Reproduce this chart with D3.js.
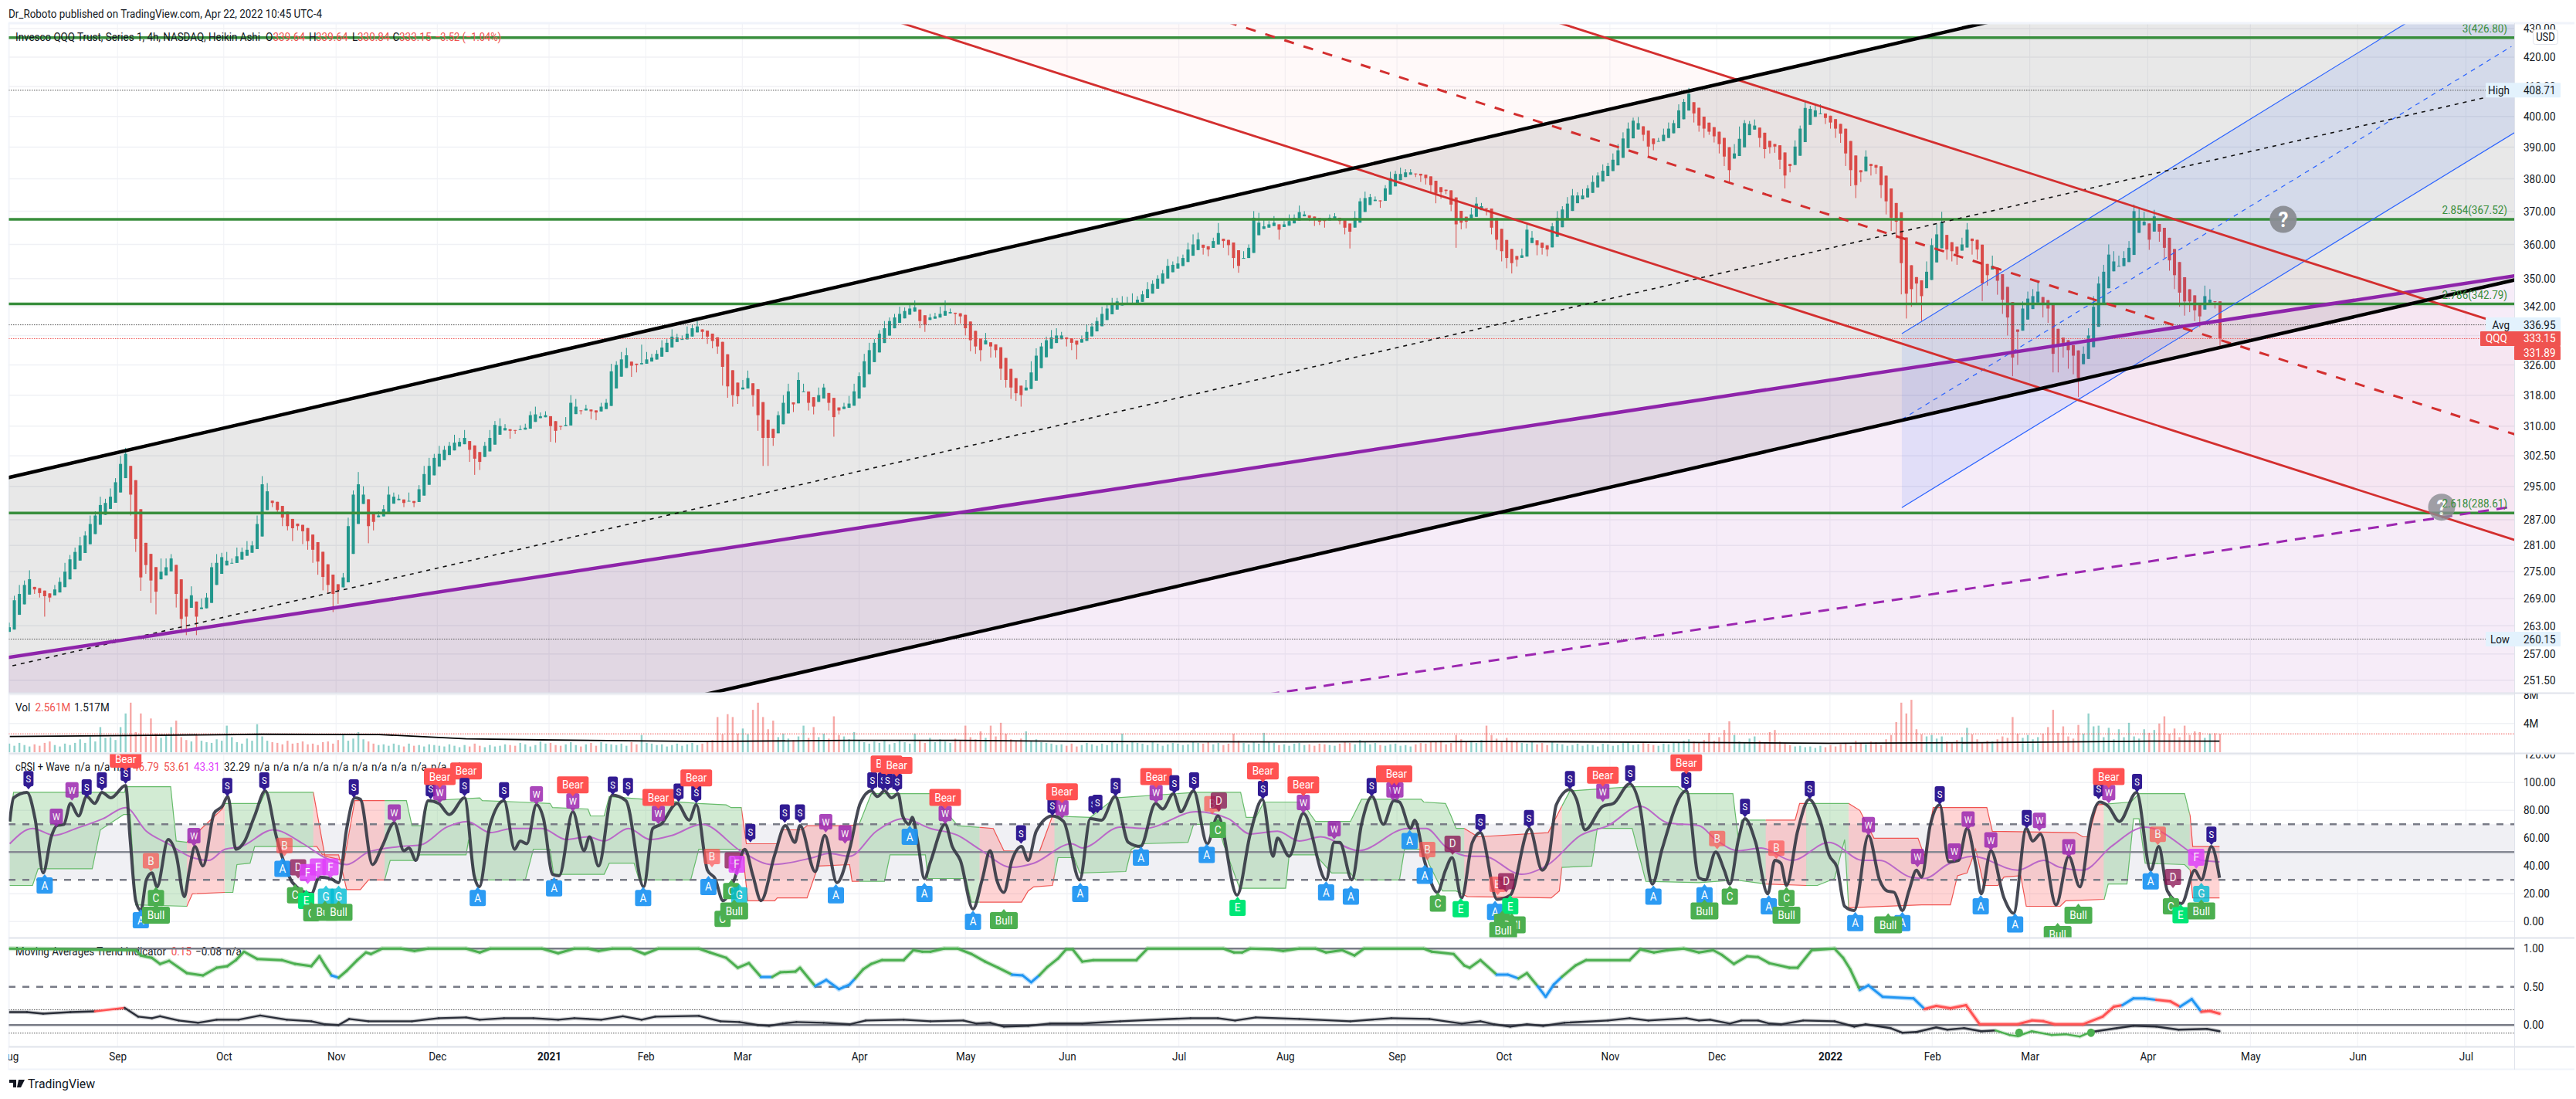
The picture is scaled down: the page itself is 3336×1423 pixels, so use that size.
<!DOCTYPE html>
<html><head><meta charset="utf-8">
<script src="https://cdnjs.cloudflare.com/ajax/libs/d3/7.8.5/d3.min.js"></script>
<style>html,body{margin:0;padding:0;background:#fff}svg{display:block}text{font-family:Roboto,sans-serif}</style>
</head><body><svg id="c" width="3336" height="1423"></svg>
<script>
// ---------- data ----------
const closes=[262.7,268.6,270,272,273.3,271,270.2,269.5,269.2,271,
272.7,275,277.8,279.5,281,283.3,286,288,290.5,291,
292.5,296,300.5,303,293,282.5,273.7,276.5,273,270.5,
275,276,278,270,264.5,265,269.7,265,267,269.2,
276,277,278.3,277.5,277,278.5,279.5,280,281,286,
295.5,293.8,291,289.3,287.5,285.5,285,285.5,284.3,282,
280,277.3,273.8,272,270,270.8,273.7,285.5,293,295.5,
293,285.5,286.5,288,289.5,293,292.5,292,291,291.5,
291,294.3,298,300,302,303,304,305,305.8,306,
307,304,301.8,301,305,307,310.3,310,309.5,308.8,
309,309.2,309.6,312.8,313,312.5,312.8,310,308.8,310,
310.3,316,315,314,314.5,313.8,313.5,315,316,324.3,
326,327.5,328.6,325.8,326,326.5,327.5,328,329,330.7,
332,333.7,333.5,333,334.5,336,336.5,335,333.7,332.5,
331,325.5,320.3,318,317.7,320,322.5,318,312.8,307,
307,307,312.8,316,319,315.6,322,319,316,315,
318,320,316,312.3,314,315,315.8,319,323,327,
330,332,334.5,336,338,339,340,340.8,341.5,341.8,
338,337,339,339.3,340,340.8,340.5,340,339.3,336,
332.7,331,330,332.7,331,330,325,322,320,318.5,
318,320,324,328.5,331,332.7,333.5,334,334,333,
332,331.5,333,335,336.5,338,340,341.5,342.5,343.5,
343,342.8,342.8,344,345.5,347,348.5,350,351.5,353.7,
354,354.4,356,358.5,360,361.5,359,358.5,361,363.4,
361,359.8,356,353.7,356,359,368,366.5,365.4,366,
366.5,364.4,366,367,368,369.7,369,368,367.5,366.8,
367,368,368.4,367,365,363.8,368,373,374,374.3,
373.5,373,377,380.2,381.5,381.5,382,382,381.5,381,
380.2,378,375.4,375.8,376.2,372,366,366.5,366.8,369,
372.3,371.5,370.7,365,361.4,358,356,354.5,355.5,356.8,
364.4,362,359.8,359,358.5,365.4,368,370.5,372.3,374.8,
374.8,374.8,377,379,381,382.5,384,386,389,392.8,
396,398.6,397.8,394,390.2,391,392,394,396,397.8,
402,404.8,407.5,401,397,396,395,393.5,391,387,
382.7,388,392.7,397.8,397.5,397,393,389.4,390,390.2,
386,381,384,390.2,396,402.8,402.5,402,401,399.5,
398,396,394.4,388,382.7,378,382,387,384,383.5,
378,373,368,366.8,354.5,345.7,347,348.6,345,352,
359.8,363,366.8,358.5,358,357,360,364.4,361,358.5,
348.6,351,353.7,349.4,344,339,328,335,341.5,344.3,
345,346.3,343,341.5,329,331,332,330,328.5,322.5,
329,334,342,348.6,352,357,355,353.7,356,359,
370,368,366.8,361.4,368.4,363.8,359,355.3,351,346,
343.5,343.5,341,339.3,345,344,343.5,333.15];
const wicks=[1,1,2,1,2,1,1,4.5,1,1,1,2,1,1,2,1,2,1,2,1,
2,1,2,1.5,5,3,3,2,5,5,3,2,1,3,3,4,2,4,2,1,
1,2,1,2,1,2,1,2,1,2,2,2,1,1,2,1,3,1,3,2,
3,3,3,2,4,3,1,2,1,3,2,4,2,1,1,2,1,1,1,2,
1,1,2,2,1,2,1,1,2,1,2,3,4,2,1,2,1,2,1,2,
1,1,1,1,2,1,1,4,3,1,2,2,2,1,1,2,2,1,1,2,
1,2,2,3,2,5,2,1,1,2,1,2,1,1,2,1,1.5,2,2,2,
2,5,3,3,2,2,2,3,4,7,7,2,1,2,2,2,2,2,2,2,
2,1,2,5,1,1,2,2,1,2,2,1,1,2,1,1,2,1,1,2,
2,2,1,1,2,3,1,3,2,2,3,2,3,2,3,2,3,2,3,2,
3,2,3,2,1,1,2,2,1,2,2,4,1,2,1,1,2,1,2,1,
2,2,3,1,1,2,1,1,1,2,1,2,1,2,3,2,2,2,1,3,
2,3,3,2,2,1,2,3,2,1,2,3,1,2,1,2,1,1,2,1,
2,1,1,1,2,5,2,1,2,1,1,2,1,2,1,2,1,1,1,2,
2,2,3,2,1,2,7,2,2,2,2,1,2,2,3,3,3,3,2,2,
2,2,3,2,2,1,2,1,2,2,1,2,1,2,1,2,1,2,2,2,
2,1,2,2,3,2,1,2,2,1,2,1,2,3,2,3,1,2,3,3,
4,3,4,1,1,2,3,3,2,2,3,4,2,2,1,2,1,2,3,2,
2,3,3,4,5,4,3,2,3,2,4,4,4,5,9,7,5,6,7,3,
2,3,3,3,3,3,2,2,4,3,5,3,3,4,4,5,5,9,2,2,
2,3,4,4,5,7,4,5,5,5,2,2,3,2,2,3,3,3,2,2,
2,3,3,3,2,3,3,3,4,4,4,3,3,3,3,3,2,2];
const volumes=[1.2,.9,1.3,1,.8,1.1,.9,1.3,1.5,1,.8,1.2,1,1.3,1.8,1.3,2.2,1.5,3.5,2,
2.1,1.7,3.5,5.4,6.9,2.8,5.4,2.2,4.7,2.6,2,2.4,3.5,4.4,2.1,1.7,1.5,2.4,1.6,1.4,
1.3,1.8,1.6,3.7,2.1,1.4,1.2,1.9,1.6,3.9,2.2,1.6,1.4,1.3,1.1,1.6,1.2,1.3,1.5,1.1,
1.2,1,1.4,1.5,1.2,1.7,2.4,1.6,1.9,2.8,1.8,1.5,1.2,1,1.1,.9,1.2,1,.8,1.2,
.9,1,.8,1.1,1,.9,.8,1.1,.9,.7,1,.8,1.2,.9,.7,1,.8,.9,1.1,1,
.9,1.3,1.1,.8,1,1.5,1.2,1.3,1,.9,1.1,1.4,1,.8,1.1,1.3,.9,1.4,1.2,1.1,
1,1.2,.9,1.4,1.1,2.4,1.3,1.2,1,1.1,.8,1,1.2,.9,1.1,1.3,1,1.2,1.4,1.7,
4.9,2.5,5.3,4.9,2.6,3.3,2.5,5.9,6.9,4.9,3.2,4.4,2.1,2.6,1.9,1.7,2.2,3.7,2,3.5,
2.1,2.6,1.9,5,2.4,2.2,1.8,2.8,1.6,1.4,1.2,1.5,1.3,1.6,1.1,1.3,1.7,1.4,1.2,2.6,
1.6,1.3,2,1.4,1.8,1.5,1.3,1.9,1.6,3.7,2.1,1.8,2.9,2,3.7,2.2,4.1,2.6,1.8,1.5,
1.9,2.9,1.6,1.8,1.4,1.3,1.2,1,1.1,.9,1.2,.8,1,1.3,1.1,.9,1.2,1,1.4,1.2,
2.6,1.1,1.5,1.3,1.2,1,1.4,1.2,.9,1.1,1.3,1.2,1,1.1,1.5,1.3,1.2,1.4,1.1,1.3,
1,1.2,2.6,1.6,1.3,1.1,1.5,1.2,2.7,1.4,1.3,1,1.1,.9,1.2,1.3,1,1.1,.9,1.2,
1.1,1,.9,1.2,1.4,1.3,1.1,1.7,1.4,1.1,1.3,1,.9,1.1,1.2,.9,1,.8,1.1,1.3,
1.2,1.4,1.5,1.6,1.1,1.3,2.4,1.8,1.5,1.6,1.3,1.7,3.7,2.4,1.9,1.5,2,1.6,1.4,1.3,
1.2,1.5,1.1,1.3,1,1.4,1.2,1.1,.9,1,1.2,.9,1.1,1,.8,1.2,1.1,.9,1,1.3,
1.5,1,1.1,1.4,1.2,1,.9,1.2,1.1,1.4,1.3,1.6,1.8,1.5,1.4,1.7,2.7,1.6,2.1,3.1,
4.3,2.4,1.5,1.3,1.9,2.2,1.6,1.4,2.8,3.1,1.5,1.2,1,.8,.9,.7,.8,.6,.9,.7,
1,.8,1.1,1.3,.9,1.6,1.2,1.1,1.5,1.4,1,1.8,2.4,4.2,6.9,5.4,7.3,3.2,2.5,2.2,
2.4,1.9,2.2,1.5,1.3,1.7,2.1,3.4,2.5,1.8,1.3,1.6,1.5,1.8,2.2,2,4.9,2.6,2,2.4,
1.8,2.1,2.6,3.5,5.9,2.7,3.6,2.2,1.9,3.8,2.6,5.4,3.6,3.7,2.1,3.4,1.8,3.2,2.1,4.1,
2.2,1.9,3.2,2.7,3.1,4,5,2.6,3.3,2.1,3.7,2.4,2.9,2.8,2,2.6,2.65,2.56];
const volMaIdx=[.1,23.9,49.6,73.1,90.3,105.3,137.4,166.1,187.5,215.3,251.8,294.6,333.1,359.7,389.8,423.3,436.9];
const volMaVal=[2.2,2.33,2.5,2.47,1.86,1.72,1.5,1.65,1.65,1.5,1.43,1.5,1.36,1.25,1.33,1.54,1.55];

const monthIdx=[0,21.4,42.4,64.6,84.6,106.7,125.8,144.9,168,189,209.1,231.2,252.2,274.3,295.4,316.4,337.5,359.9,380.1,399.4,422.7,443,464.2,485.6];
const monthLabels=["Aug","Sep","Oct","Nov","Dec","2021","Feb","Mar","Apr","May","Jun","Jul","Aug","Sep","Oct","Nov","Dec","2022","Feb","Mar","Apr","May","Jun","Jul"];
const priceTicks=[430,420,410,400,390,380,370,360,350,342,334,326,318,310,302.5,295,287,281,275,269,263,257,251.5];
const crsiTicks=[120,100,80,60,40,20,0];
const maTicks=[1,.5,0];
const volTicks=[8,4];

const fibLevels=[426.8,367.52,342.79,288.61];
const fibLabels=["3(426.80)","2.854(367.52)","2.786(342.79)","2.618(288.61)"];

// drawn lines as [bar index, price] anchor pairs
const blackUpper=[[-1,296.9],[497,478.4]];
const blackLower=[[-1,217.8],[497,350.2]];
const blackMid=[[-1,254.1],[489,406.1]];
const purpleSolid=[[-1,256.1],[497,351.2]];
const purpleDash=[[-1,212.5],[497,290.5]];
const redLower=[[100,478.3],[497,281.6]];
const redUpper=[[227,480.1],[497,335.3]];
const redMid=[[150,488],[497,307.2]];
const blueUpper=[[374.1,334.5],[497,458.4]];
const blueLower=[[374.1,289.9],[497,396.5]];
const blueMid=[[374.1,311.7],[494.6,423.7]];
const questionIdx=[449.5,480.8];
const questionPrice=[367.5,290];

// cRSI pane
const crsiIdx=[.1,.85,3.5,5.1,6.7,8.3,9.4,10.8,12.1,13.7,15.3,16.9,18.3,20.1,23,23.9,25,26,27.1,28.2,29.2,31.4,33,34.6,35.6,36.7,38.3,40.5,42.1,43.2,44.8,46.4,48.5,50.6,52.8,53.9,56,59.7,61.3,63.5,65.1,66.7,68.3,69.4,71.8,73.7,76.1,78,79,80.4,82.8,84.9,87,90,91.9,92.9,95,97.8,99.9,101,102.3,104.2,105.6,107.4,108.7,111.4,113.6,114.7,116.5,119.2,121.9,125.4,127.2,128.8,132,134.4,135.8,138,139.5,141.1,143.3,145.4,147,148.6,151.3,153.4,155.3,156.3,159.3,161.2,163.6,
166.1,168.2,170.4,171.6,173,174.4,175.7,176.6,177.9,178.5,179.5,180.9,182.1,185,186.4,188,190.5,192.3,193.9,195.2,196.6,198.2,200.1,201.4,203,206.2,208.4,211.6,213.7,215.9,218.6,221.2,223.6,226.6,228,230.1,231.6,234.1,236.8,238.9,242.7,245.3,247.7,249.8,250.7,253,255.8,260.3,261.9,263,265.4,267.3,269.4,271.6,273.7,274.8,277,277.8,279.8,282.3,283.9,285.2,287.1,289.2,290.8,294.1,296.7,300.5,303,304.2,305.8,308.5,309.8,311.5,315,317.1,320.3,322.2,324.8,326.7,331.5,334,
335.3,337.3,339,340.1,341.8,343.1,345.2,347.6,349,350.2,351.3,353.5,355.8,358,359.7,361.3,362.8,364.7,367.5,369.7,371.2,372.6,374.2,375.5,377,378,379.7,381.6,383.4,385.3,387,388.7,389.8,391.7,394.3,396.2,398.7,400,401.5,404.6,407.1,409.3,411.5,413.2,414.9,417.1,420.5,423.3,424.9,426.6,429.4,432,433.3,435.3,436.9];
const crsiVal=[72,89,93,74,35,61,69,70,85,76,90,85,93,89,98,59,15,8,30,35,25,59,48,18,37,54,40,78,83,90,52,57,76,94,61,47,28,20,32,31,28,67,89,88,41,54,71,51,53,44,87,85,77,89,33,25,69,87,52,58,56,84,74,34,33,79,51,61,40,91,87,25,67,70,85,73,84,37,31,15,30,52,33,15,48,69,57,69,36,62,28,
52,85,94,90,94,89,92,76,70,75,59,31,43,70,54,44,9,30,51,30,21,44,54,44,65,76,72,30,74,73,90,57,54,85,81,92,79,94,56,76,19,63,88,47,60,47,78,30,57,57,30,70,90,70,87,86,67,73,43,21,37,46,17,57,64,16,19,67,37,44,84,95,88,66,83,85,99,85,27,52,94,31.5,
30,50,37,27,59,74,57,20,44,42,26,65,88,72,48,39,11,8,62,30,22,21,8,22,37,32,69,84,43,44,67,41,20,51,17,6,67,58,63,12,47,25,72,86,83,72,93,37,54,22,13,37,30,54,31.5];
const waveIdx=[.1,4.6,8.9,13.2,18.5,23,27.1,31.4,35.6,39.4,42.6,45.8,52.2,58.1,62.4,66.7,71,77.4,81.2,86.5,90.5,95.1,99.4,105.3,110.1,114.4,117.6,122.4,126.7,131,136.9,144.9,150.8,158.8,162,166.1,171.4,176.8,182.1,187.5,191.8,198.2,202.5,210,212.1,219.6,224.4,234.6,241,245.3,250.7,255,259.2,266.7,276.4,280.1,283.9,288.7,291.4,298.9,304.2,310.6,316,322.4,327.8,334,337.3,341.8,346.3,352.4,359.7,366.4,369.7,375.8,378.6,383.1,388.1,397,402.1,405.4,409.9,415.5,422.2,431.1,433.3,436.9];
const waveVal=[56,67,62,67,74,82,65,56,47,44,52,54,66,56,46,41,50,54,55,68,72,64,67,67,59,61,58,67,59,62,70,50,41,46,49,47,65,74,67,62,52,39,42,56,53,68,67,79,74,63,65,58,61,51,67,67,54,47,47,34,41,62,69,83,71,69,59,51,53,44,57,44,44,32,31,41,47,37,44,39,37,54,68,50,44,43];
const bandTopIdx=[.1,.85,22.8,23,31.9,33,35.1,42.1,42.6,49.6,50.6,60.1,62.4,66.2,68.3,78.5,79.6,81.7,82.8,93,93.5,101,106.9,107.4,114.4,114.9,117.6,118.6,136.3,141.7,142.7,144.7,145.7,151.8,152.9,156.7,157.7,166.1,168,170.4,182.1,187.5,194.5,196.6,203.6,206.2,213.7,218.6,234.6,243.4,244.5,246.4,248,255.5,258.2,265.1,267.3,279.1,279.6,283.9,285,286,287.6,290.3,304.2,306.9,308.5,320.8,329.9,331.5,340.7,341.8,342.4,353,353.9,363.6,365.8,366.9,368.6,377.3,378.6,380.3,390.9,392,408.5,409.9,411,412.7,419.4,421,430,431.1,431.6,436.9];
const bandTopVal=[72,93,93,97,97,58,57,81,85,85,93,93,47,44,87,87,69,69,87,89,87,86,85,82,81,76,76,90,85,84,82,82,56,56,66,66,69,69,70,92,92,69,67,51,50,76,75,89,93,93,75,75,86,86,72,72,88,88,86,85,76,67,67,61,64,83,94,97,97,92,92,59,73,73,85,85,80,72,60,60,47,82,82,65,64,61,61,84,86,92,92,76,54,54];
const bandBotIdx=[.1,4.6,5.7,16.4,18,22.6,23.9,25,35.1,36.2,42.6,44.2,45,47.6,48.5,60.8,61.9,65.1,66.7,69.4,71,74.2,75.3,80.1,81.2,90.3,90.8,91.9,102,103.6,106.9,107.6,117.6,118.6,123.5,124.5,134.7,136.3,144.9,146,151.3,151.8,157.7,159.9,166.1,166.6,173,174.1,181.1,181.6,189.1,190.2,200.1,201.4,202.5,206.2,207.3,210.5,211.6,220.7,221.8,223.9,233,234.1,238.9,240,243.2,252.3,253,258.2,261.4,265.1,266.2,274.8,275.8,279.6,280.7,283.3,286,288.2,304.8,306.4,306.9,312.8,313.9,320.8,323.5,334,341.3,347.2,355.2,357.4,360.8,362.8,363.6,378,383.7,385.1,387,388.7,390.3,393.1,394.3,397.6,398.7,405.4,406.5,414.1,414.9,418.6,419.9,421,422.2,430,431.1,431.6,436.9];
const bandBotVal=[26,26,38,38,66,77,77,12,11,20,21,21,41,42,54,54,48,48,23,23,30,30,44,44,48,48,59,30,30,52,52,34,34,42,42,30,30,52,52,15,15,17,17,40,41,29,29,48,48,31,31,14,14,22,25,26,46,46,35,36,52,56,57,70,70,56,24,24,48,48,35,35,30,30,52,52,41,22,22,18,17,22,39,40,67,67,29,28,30,27,26,26,31,59,10,12,12,33,35,52,26,26,32,33,11,11,15,16,27,27,74,74,42,41,37,17,17];
const redSpans=[[35.1,42.6],[60.1,74.2],[144.8,168],[191.8,206.6],[287.6,306.9],[347.2,355.2],[363.6,414],[431,437]];

const markerKinds=["S","W","W","S","S","S","Bear","A","A","B","C","Bull","W","S","S","B","A","D","C","F","E","G","G","C","F","F","Bull","Bull","S","W","S","W","Bear","Bear","S","A","S","W","A","W","Bear","S","S","A","W","Bear","S","S","Bear","A","B","D","C","F","G","C","Bull","S","S","S","W","W","A",
"S","S","S","S","Bear","Bear","A","W","Bear","A","A","Bull","S","S","W","Bear","A","S","S","S","A","W","Bear","S","S","A","B","D","C","E","S","Bear","W","Bear","A","W","A","S","W","W","Bear","Bear","A","B","A","C","D","E","S","B","D","A","E","C","Bull","Bull","S","S","W","Bear","S","A","S","Bear",
"A","Bull","B","C","S","B","A","C","Bull","S","W","A","A","Bull","W","S","W","W","A","W","A","S","W","Bull","W","Bull","S","W","Bear","S","A","B","D","C","E","F","G","Bull","S"];
const markerIdx=[3.8,12.4,9.3,15.3,18.3,23,23,7,26,28,29,29,36.5,43.1,50.4,54.4,54,57.1,56.5,59,58.7,62.6,65.1,59.7,61,63.5,62.4,65.1,68.1,76.1,83.3,85.1,85.1,90.3,90,92.6,97.8,104.2,107.7,111.4,111.4,119.3,122.3,125.3,128.3,128.3,132.3,135.8,135.8,138.2,138.9,143,142.7,143.8,144.3,141,143.3,146.5,153.3,156.3,161.4,165.2,163.4,
170.6,172.7,173.6,175.5,173.4,175.4,178,185,185,180.9,190.5,196.6,200,206.2,208.1,208.1,211.7,214.3,215.1,218.7,223.7,226.7,226.7,230.3,234.2,236.7,237.8,239.1,238.9,242.8,247.8,247.8,255.8,255.8,260.3,261.9,265.2,269.3,273.5,274.3,273.3,274.2,276.8,280.3,279.8,282.4,285.3,286.9,290.8,294.2,295.9,293.7,296.7,295.1,297,295.3,300.4,308.5,315,315,320.4,325,331.5,331.5,
335.1,335.1,337.6,340.1,343.1,349.3,347.8,351.3,351.3,355.9,367.5,364.9,374.2,371.4,377.2,381.6,384.5,387.2,389.7,391.7,396.5,398.8,401.3,404.9,407.1,409,413,415,415,420.6,423.3,424.7,427.7,427.3,429.2,432.3,433.3,433.3,435.3];
const markerVals=[95,87,68,89,94,99,108.5,34,9,36,25,13,54,90,94,47,46,31,27,27,23,26,26,14,31,31,15,15,89,71,88,85,96,100,90,25,87,84,32,79,90,91,90,25,70,81,86,85,95,33,39,36,30,33,27,10,16,57,71,71,64,56,27,
94,94,94,93,105,104,69,70,81,28,8,9,56,76,74,85,28,77,78,90,54,85,96,92,94,56,77,79,74,18,88,100,78,90,29,59,26,90,87,87,98,98,66,44,41,21,48,17,64,19,21,15,19,8,6,2,67,95,86,97,99,26,94,106,
27,16,52,26,75,45,19,25,13,88,62,7,7,6,39,84,43,66,19,51,6,67,65,-1,46,13,88,85,96,93,37,55,24,19,12.6,38,28,16,55];

// Moving Averages Trend pane
const maIdx=[.1,25,26,28.2,29.8,31.6,35.1,38.3,41,43.1,44.8,46.4,49,53.9,56.5,59.7,61.3,62.4,63.7,65.1,66.7,68.8,70.5,71.5,73.7,77.4,80.1,82.8,90.3,93,95.1,105.3,108.5,111.7,114.4,116.5,119.2,122.9,125.6,128.3,136.3,138.5,141.7,144,146.2,148.6,150.8,152.4,155.4,156.3,159.3,161.5,164,166.1,167.2,168.8,170.4,172.5,176.8,178.7,180.5,182.1,184.8,187.5,190.2,192.9,195.5,198.2,200.3,202,203.6,205.2,207.3,208.9,210.2,212.1,214.3,222.8,225,240,242.1,243.7,245.3,249.6,251.8,255,258.2,260.3,263.5,265.9,267.8,279.6,281.2,285.5,287.6,288.7,290.8,294,296.2,298.3,300,302.1,303.7,305.3,306.9,309.6,311.7,320.3,322.4,325.1,327.8,331,334,336.8,338.5,340.9,343.5,345.7,347.9,351.9,353.5,356.3,360.8,362.5,363.9,365.8,367.5,370.3,376.4,378.6,380.9,383.7,386.8,389.5,397,399.8,402.1,404.3,409.9,413.8,416,417.7,419.9,422.1,424.4,427.2,429.1,431.4,433.3,435,436.9];
const maVal=[1,.98,.91,.88,.8,.84,.68,.65,.75,.77,.85,.96,.865,.85,.8,.77,.9,.78,.65,.62,.71,.85,.95,.93,1,1,.97,1,1,.95,1,1,.94,1,1,.97,1,1,.93,1,1,.95,.88,.75,.81,.63,.63,.69,.7,.75,.51,.59,.47,.53,.61,.73,.8,.85,.85,.98,.96,.96,1,1,.93,.83,.75,.66,.65,.56,.65,.76,.87,.99,.99,.83,.85,.85,1,1,.95,.95,1,.99,.97,1,1,.95,.98,.91,1,1,.96,.93,.78,.75,.85,.66,.66,.61,.68,.51,.37,.53,.63,.78,.85,.85,.99,.95,.98,1,.95,.98,.92,.8,.9,.89,.81,.75,.75,.98,1,.88,.73,.46,.52,.37,.35,.21,.25,.22,.26,.01,.01,.06,.05,.01,.01,.11,.24,.26,.35,.35,.33,.31,.24,.34,.175,.185,.15];
const trendIdx=[.1,3.5,6.7,12.1,16.9,22.8,25.5,28.2,29.8,33.5,37.3,41,45.3,49.6,54.9,59.7,62.4,65.1,67.2,71,79.6,84.9,90.3,93,97.8,103.6,108.5,111.7,117,121.3,125,127.7,136.3,140.6,144.3,148,150.2,152.9,155.6,161,166.1,169.3,176.8,182.1,188.6,191.2,193.9,196.6,201.4,205.7,212.1,219.6,233.5,238.9,242.3,246.4,255,265.1,273.2,280.7,287.1,290.8,293.5,296.7,300,303.2,307.4,316,320.3,324,331.5,334,336.2,340.1,342.4,345.7,347.9,350.2,354.6,360.8,364.7,366.9,371.9,374.2,377,380.9,383.1,386.4,389.8,392.6,395.4,397,399.8,403.7,406.5,409.3,411.5,416.6,419.9,424.4,428.8,434.4,436.9];
const trendVal=[.17,.17,.15,.17,.18,.225,.11,.09,.115,.06,.03,.07,.07,.125,.07,.05,.01,0,.08,.05,.05,.09,.1,.07,.09,.09,.07,.09,.07,.115,.07,.11,.12,.05,.04,0,-.01,.02,.04,.03,.01,.06,.07,.05,.06,.02,.03,-.02,-.01,.02,.02,.05,.09,.09,.06,.1,.08,.05,.09,.08,.02,.05,.01,-.02,.01,-.01,.03,.06,.09,.06,.09,.06,.07,.02,.06,.06,.02,.01,.06,.05,-.02,.01,-.04,-.1,-.09,-.03,-.06,-.04,-.08,-.07,-.13,-.145,-.08,-.13,-.12,-.15,-.09,-.04,-.01,-.02,-.06,-.05,-.08];
const trendDotsIdx=[397.3,411.5];
const trendDotsVal=[-.1,-.1];

const COL={up:"#26a69a",down:"#ef5350",green:"#388e3c",grid:"#f0f1f5",border:"#e0e3eb",text:"#131722"};
const L=11,R=3256;

// ---------- scales ----------
const N=closes.length;
const x=d3.scaleLinear().domain([0,N-1]).range([12,2875]);
const y=d3.scaleLog().domain([251.5,420]).range([880.7,74]);
const vy=d3.scaleLinear().domain([0,8]).range([974,899.6]);
const cy=d3.scaleLinear().domain([0,120]).range([1193.3,977.3]);
const my=d3.scaleLinear().domain([0,1]).range([1327.3,1228.3]);

const svg=d3.select("#c");
const defs=svg.append("defs");
function clip(id,x0,y0,x1,y1){defs.append("clipPath").attr("id",id).append("rect").attr("x",x0).attr("y",y0).attr("width",x1-x0).attr("height",y1-y0);return `url(#${id})`;}
const cMain=clip("cMain",L,31,R,897),cVol=clip("cVol",L,898,R,975),cRsi=clip("cRsi",L,977,R,1214),cMk=clip("cMk",L,975,R,1214),cMa=clip("cMa",L,1216,R,1355);
const cMainR=clip("cMainR",R,31,3336,897),cVolR=clip("cVolR",R,898,3336,975),cRsiR=clip("cRsiR",R,977,3336,1214),cMaR=clip("cMaR",R,1216,3336,1355);
const cTime=clip("cTime",L,1356,R,1384);

// ---------- grid ----------
const grid=svg.append("g").attr("stroke",COL.grid).attr("stroke-width",1.5);
grid.selectAll(".v").data(monthIdx).join("line").attr("x1",d=>x(d)).attr("x2",d=>x(d)).attr("y1",31).attr("y2",1355).attr("stroke-width",1);
function hgrid(vals,sc,c){grid.append("g").attr("clip-path",c).selectAll("line").data(vals).join("line").attr("x1",L).attr("x2",R).attr("y1",d=>sc(d)).attr("y2",d=>sc(d));}
hgrid(priceTicks,y,cMain);hgrid(volTicks,vy,cVol);hgrid(crsiTicks,cy,cRsi);

// ---------- candles (Heikin Ashi body) ----------
const main=svg.append("g").attr("clip-path",cMain);
let prevO=closes[0]-1,prevC=closes[0];
const opens=closes.map((c,i)=>{const o=i?(prevO+prevC)/2:prevO;prevO=o;prevC=c;return o;});
const isUp=i=>closes[i]>=opens[i];
const cand=main.append("g");
cand.selectAll(".w").data(closes).join("line")
 .attr("x1",(d,i)=>x(i)).attr("x2",(d,i)=>x(i))
 .attr("y1",(d,i)=>y(Math.max(d,opens[i])+(isUp(i)?wicks[i]:0)))
 .attr("y2",(d,i)=>y(Math.min(d,opens[i])-(isUp(i)?0:wicks[i])))
 .attr("stroke",(d,i)=>isUp(i)?COL.up:COL.down).attr("stroke-width",1);
cand.selectAll(".b").data(closes).join("rect")
 .attr("x",(d,i)=>x(i)-2).attr("width",4)
 .attr("y",(d,i)=>y(Math.max(d,opens[i])))
 .attr("height",(d,i)=>Math.max(1,y(Math.min(d,opens[i]))-y(Math.max(d,opens[i]))))
 .attr("fill",(d,i)=>isUp(i)?COL.up:COL.down);

// ---------- drawing tools ----------
const pt=a=>[x(a[0]),y(a[1])];
function band(a,b,fill){main.append("polygon").attr("points",[pt(a[0]),pt(a[1]),pt(b[1]),pt(b[0])].join(" ")).attr("fill",fill);}
function seg(a,stroke,w,dash){main.append("path").attr("d",d3.line()(a.map(pt))).attr("stroke",stroke).attr("stroke-width",w).attr("fill","none").attr("stroke-dasharray",dash||null);}
band(blackUpper,blackLower,"rgba(0,0,0,.09)");
// purple zone below the purple line, down to the pane floor
main.append("path").attr("d",d3.area().x(a=>x(a[0])).y0(897).y1(a=>y(a[1]))(purpleSolid)).attr("fill","rgba(156,39,176,.09)");
band(redLower,redUpper,"rgba(244,67,54,.03)");
band(blueUpper,blueLower,"rgba(41,98,255,.1)");

// horizontal series lines
const dotted=[[408.71,"#555"],[336.95,"#555"],[260.15,"#555"],[333.15,"#ef5350"]];
main.selectAll(".dl").data(dotted).join("line").attr("x1",L).attr("x2",R).attr("y1",d=>y(d[0])).attr("y2",d=>y(d[0])).attr("stroke",d=>d[1]).attr("stroke-width",1).attr("stroke-dasharray","1.5 1.5");
main.selectAll(".fib").data(fibLevels).join("line").attr("x1",L).attr("x2",R).attr("y1",d=>y(d)).attr("y2",d=>y(d)).attr("stroke",COL.green).attr("stroke-width",3.4);

seg(blueUpper,"#2962ff",1.2);seg(blueLower,"#2962ff",1.2);seg(blueMid,"#2962ff",1.2,"6 6");
seg(blackMid,"#111",1.6,"5 6");
seg(purpleDash,"#9c27b0",3,"14 10");seg(purpleSolid,"#8e24aa",4.5);
seg(redLower,"#d32f2f",2.8);seg(redUpper,"#d32f2f",2.8);seg(redMid,"#d32f2f",3,"13 13");
seg(blackUpper,"#000",4.5);seg(blackLower,"#000",4.5);

questionIdx.forEach((q,i)=>{const g=main.append("g").attr("transform",`translate(${x(q)},${y(questionPrice[i])})`).attr("opacity",i?.8:.95);
 g.append("circle").attr("r",17.5).attr("fill","#8a8d93");
 g.append("text").attr("text-anchor","middle").attr("dy",10).attr("font-size",28).attr("font-weight",700).attr("fill","#fff").text("?");});
main.selectAll(".fibt").data(fibLevels).join("text").attr("x",3247).attr("y",d=>y(d)-7).attr("text-anchor","end").attr("font-size",14.5).attr("fill",COL.green).text((d,i)=>fibLabels[i]);

// ---------- volume ----------
const vol=svg.append("g").attr("clip-path",cVol);
vol.selectAll("rect").data(volumes).join("rect").attr("x",(d,i)=>x(i)-1.2).attr("width",2.4).attr("y",d=>vy(d)).attr("height",d=>vy(0)-vy(d)).attr("fill",(d,i)=>isUp(i)?"rgba(38,166,154,.5)":"rgba(239,83,80,.5)");
vol.append("line").attr("x1",L).attr("x2",R).attr("y1",vy(2.561)).attr("y2",vy(2.561)).attr("stroke","#ef5350").attr("stroke-dasharray","1.5 1.5");
vol.append("path").attr("d",d3.line().x((d,i)=>x(volMaIdx[i])).y(d=>vy(d))(volMaVal)).attr("fill","none").attr("stroke","#000").attr("stroke-width",1.8);

// ---------- cRSI ----------
const rsi=svg.append("g").attr("clip-path",cRsi);
rsi.append("rect").attr("x",L).attr("width",R-L).attr("y",cy(70)).attr("height",cy(30)-cy(70)).attr("fill","#f0f0f4");
// band fills, one copy per colour span
const topPts=bandTopIdx.map((d,i)=>[x(d),cy(bandTopVal[i])]),botPts=bandBotIdx.map((d,i)=>[x(d),cy(bandBotVal[i])]);
const bandD="M"+topPts.join("L")+"L"+botPts.slice().reverse().join("L")+"Z";
const topD=d3.line()(topPts),botD=d3.line()(botPts);
const greenSpans=[];let last=0;redSpans.forEach(s=>{greenSpans.push([last,s[0]]);last=s[1];});if(last<N-1)greenSpans.push([last,N-1]);
function paintSpans(sp,fill,stroke,tag){sp.forEach((s,k)=>{const c=clip(tag+k,x(s[0]),977,x(s[1]),1214);const g=rsi.append("g").attr("clip-path",c);
 g.append("path").attr("d",bandD).attr("fill",fill);
 g.append("path").attr("d",topD).attr("fill","none").attr("stroke",stroke).attr("stroke-width",1.2);
 g.append("path").attr("d",botD).attr("fill","none").attr("stroke",stroke).attr("stroke-width",1.2);});}
paintSpans(greenSpans,"rgba(76,175,80,.25)","#66bb6a","bg");
paintSpans(redSpans,"rgba(255,82,82,.25)","#ef5350","br");
rsi.selectAll(".h").data([70,30]).join("line").attr("x1",L).attr("x2",R).attr("y1",d=>cy(d)).attr("y2",d=>cy(d)).attr("stroke","#787b86").attr("stroke-width",2.4).attr("stroke-dasharray","9 9");
rsi.append("line").attr("x1",L).attr("x2",R).attr("y1",cy(50)).attr("y2",cy(50)).attr("stroke","#868993").attr("stroke-width",2.4);
const smooth=(xs,ys,sc)=>d3.line().curve(d3.curveMonotoneX).x((d,i)=>x(xs[i])).y(d=>sc(d))(ys);
rsi.append("path").attr("d",smooth(waveIdx,waveVal,cy)).attr("fill","none").attr("stroke","#ba68c8").attr("stroke-width",2);
rsi.append("path").attr("d",smooth(crsiIdx,crsiVal,cy)).attr("fill","none").attr("stroke","#363a45").attr("stroke-width",4).attr("stroke-opacity",.92);

// ---------- legends (under the markers); an optional fourth item fixes the text width ----------
function legend(ty,parts){parts.forEach(p=>svg.append("text").attr("x",p[1]).attr("y",ty).attr("font-size",14.5).attr("fill",p[2]||COL.text).attr("data-fit",p[3]||null).text(p[0]));}
legend(23,[["Dr_Roboto published on TradingView.com, Apr 22, 2022 10:45 UTC-4",11,null,406]]);
const RED="#ef5350";
legend(53,[["Invesco QQQ Trust, Series 1, 4h, NASDAQ, Heikin Ashi",20,null,317],["O",344],["339.64",353.5,RED],["H",400],["339.64",409,RED],["L",456],["330.84",463,RED],["C",508.6],["333.15",517,RED],["−3.52 (−1.04%)",563,RED,86]]);
legend(921,[["Vol",20],["2.561M",45.6,RED],["1.517M",96]]);
legend(998,[["cRSI + Wave",20,null,70],["n/a",96.8],["n/a",122],["n/a",147],["46.79",172,RED],["53.61",212,RED],["43.31",251,"#e040fb"],["32.29",290],["n/a",329],["n/a",354],["n/a",379.5],["n/a",405.5],["n/a",431],["n/a",456],["n/a",481],["n/a",506.5],["n/a",532.5],["n/a",558],["n/a",583]]);
legend(1237,[["Moving Averages Trend Indicator",20,null,195],["0.15",221.7,RED],["−0.08",253],["n/a",292.5]]);

// ---------- cRSI markers ----------
const mkStyle={S:["#311b92",13,20,1,"d"],W:["#9c27b0",17,20,.85,"d"],Bear:["#ff5252",41,22,1,"d"],B:["#ff5252",21,20,.7,"d"],D:["#880e4f",21,21,.75,"d"],F:["#e040fb",21,22,.85,"d"],
 A:["#2196f3",21,21,.95,"u"],C:["#4caf50",21,21,1,"u"],E:["#00e676",21,21,1,"u"],G:["#00bcd4",21,21,.8,"u"],Bull:["#4caf50",36,22,1,"u"]};
const mk=svg.append("g").attr("clip-path",cMk);
markerKinds.forEach((k,i)=>{const s=mkStyle[k],w=s[1],h=s[2],dir=s[4]==="d"?-1:1,px=x(markerIdx[i]),py=cy(markerVals[i]);
 const top=dir<0?py-4-h:py+4;
 const g=mk.append("g").attr("opacity",s[3]);
 g.append("rect").attr("x",px-w/2).attr("y",top).attr("width",w).attr("height",h).attr("rx",2.5).attr("fill",s[0]);
 g.append("path").attr("d",`M${px-4},${py+dir*5}L${px},${py}L${px+4},${py+dir*5}Z`).attr("fill",s[0]);
 g.append("text").attr("x",px).attr("y",top+h/2+5).attr("text-anchor","middle").attr("font-size",k==="S"||k==="W"?12:14.5).attr("fill","#fff").text(k);});

// ---------- moving average trend pane ----------
const ma=svg.append("g").attr("clip-path",cMa);
ma.selectAll(".s").data([1,0]).join("line").attr("x1",L).attr("x2",R).attr("y1",d=>my(d)).attr("y2",d=>my(d)).attr("stroke","#787b86").attr("stroke-width",2.4);
ma.append("line").attr("x1",L).attr("x2",R).attr("y1",my(.5)).attr("y2",my(.5)).attr("stroke","#787b86").attr("stroke-width",2.4).attr("stroke-dasharray","9 9");
ma.selectAll(".d").data([.2,-.105]).join("line").attr("x1",L).attr("x2",R).attr("y1",d=>my(d)).attr("y2",d=>my(d)).attr("stroke","#555").attr("stroke-dasharray","1.5 1.5");
const maColor=v=>v>.66?"#4caf50":v>=.34?"#2196f3":"#ff5252";
const maSeg=d3.pairs(maIdx.map((d,i)=>[d,maVal[i]]));
[[6,.28],[3,1]].forEach(st=>ma.append("g").attr("stroke-linecap","round").attr("opacity",st[1]).selectAll("line").data(maSeg).join("line")
 .attr("x1",d=>x(d[0][0])).attr("x2",d=>x(d[1][0])).attr("y1",d=>my(d[0][1])).attr("y2",d=>my(d[1][1])).attr("stroke-width",st[0]).attr("stroke",d=>maColor(Math.max(d[0][1],d[1][1]))));
const trColor=v=>v>=.18?"#ff5252":v<-.095?"#4caf50":"#2a2e39";
const trSeg=d3.pairs(trendIdx.map((d,i)=>[d,trendVal[i]]));
[[5,.22],[2.4,1]].forEach(st=>ma.append("g").attr("stroke-linecap","round").attr("opacity",st[1]).selectAll("line").data(trSeg).join("line")
 .attr("x1",d=>x(d[0][0])).attr("x2",d=>x(d[1][0])).attr("y1",d=>my(d[0][1])).attr("y2",d=>my(d[1][1])).attr("stroke-width",st[0]).attr("stroke",d=>trColor((d[0][1]+d[1][1])/2)));
ma.selectAll(".dot").data(trendDotsIdx).join("ellipse").attr("cx",d=>x(d)).attr("cy",(d,i)=>my(trendDotsVal[i])).attr("rx",5).attr("ry",5.5).attr("fill","#4caf50");

// ---------- frame ----------
const frame=svg.append("g").attr("stroke",COL.border);
frame.append("line").attr("x1",L).attr("x2",3334).attr("y1",30).attr("y2",30).attr("stroke","#f0f3fa").attr("stroke-width",3);
[897.5,975.5,1214.5,1355.5,1384.5].forEach(v=>frame.append("line").attr("x1",L).attr("x2",3334).attr("y1",v).attr("y2",v).attr("stroke-width",2).attr("stroke",v===1384.5?"#f0f3fa":COL.border));
frame.append("line").attr("x1",R+.5).attr("x2",R+.5).attr("y1",30).attr("y2",1385);
frame.append("line").attr("x1",L).attr("x2",L).attr("y1",30).attr("y2",1385).attr("stroke","#f0f3fa");

// ---------- axes ----------
function rAxis(sc,ticks,fmt,c){const g=svg.append("g").attr("clip-path",c).append("g").attr("transform",`translate(${R},0)`)
 .call(d3.axisRight(sc).tickValues(ticks).tickSize(0).tickPadding(12).tickFormat(fmt));
 g.select(".domain").remove();g.selectAll("text").attr("font-size",14.5).attr("font-family","Roboto").attr("fill",COL.text);}
rAxis(y,priceTicks,d3.format(".2f"),cMainR);
rAxis(vy,volTicks,d=>d+"M",cVolR);
rAxis(cy,crsiTicks,d3.format(".2f"),cRsiR);
rAxis(my,maTicks,d3.format(".2f"),cMaR);
const tg=svg.append("g").attr("clip-path",cTime).append("g").attr("transform","translate(0,1356)")
 .call(d3.axisBottom(x).tickValues(monthIdx).tickSize(0).tickPadding(7).tickFormat((d,i)=>monthLabels[i]));
tg.select(".domain").remove();
tg.selectAll("text").attr("font-size",14.5).attr("font-family","Roboto").attr("fill",COL.text).attr("font-weight",(d,i)=>/^20/.test(monthLabels[i])?700:400);

// ---------- price tags ----------
const tagLabels=["High","Avg","Low"],tagVals=[408.71,336.95,260.15];
tagVals.forEach((v,i)=>{const c=y(v);svg.append("rect").attr("x",3219).attr("y",c-9.5).attr("width",97).attr("height",19).attr("fill","#e3f2fd").attr("rx",1);
 svg.append("text").attr("x",3250).attr("y",c+5).attr("text-anchor","end").attr("font-size",14.5).attr("fill",COL.text).text(tagLabels[i]);
 svg.append("text").attr("x",3268).attr("y",c+5).attr("font-size",14.5).attr("fill",COL.text).text(d3.format(".2f")(v));});
const qy=y(333.15)+0;
svg.append("rect").attr("x",3212).attr("y",qy-9.5).attr("width",104).attr("height",19).attr("fill","#ef5350").attr("rx",1);
svg.append("rect").attr("x",R).attr("y",qy+9.5).attr("width",60).attr("height",18).attr("fill","#ef5350").attr("rx",1);
[["QQQ",3219,qy+5],["333.15",3268,qy+5],["331.89",3268,qy+23.5]].forEach(d=>svg.append("text").attr("x",d[1]).attr("y",d[2]).attr("font-size",14.5).attr("fill","#fff").text(d[0]));
svg.append("rect").attr("x",3280.5).attr("y",38.5).attr("width",32).attr("height",19).attr("rx",3).attr("fill","#fff").attr("stroke","#e0e3eb");
svg.append("text").attr("x",3296.5).attr("y",53).attr("text-anchor","middle").attr("font-size",14).attr("fill",COL.text).text("USD");

// ---------- footer ----------
const lg=svg.append("g").attr("fill",COL.text);
lg.append("path").attr("d","M12,1398h9v10h-4v-6h-5zM24,1398h8l-5,10h-5z");
svg.append("text").attr("x",36).attr("y",1409).attr("font-size",17).attr("fill",COL.text).text("TradingView");

// the reference's typeface is narrower than Roboto at the same height
svg.selectAll("text").each(function(){const w=this.getComputedTextLength(),fit=this.getAttribute("data-fit");if(w>0){this.setAttribute("textLength",fit||(w*.93).toFixed(1));this.setAttribute("lengthAdjust","spacingAndGlyphs");}});
</script></body></html>
